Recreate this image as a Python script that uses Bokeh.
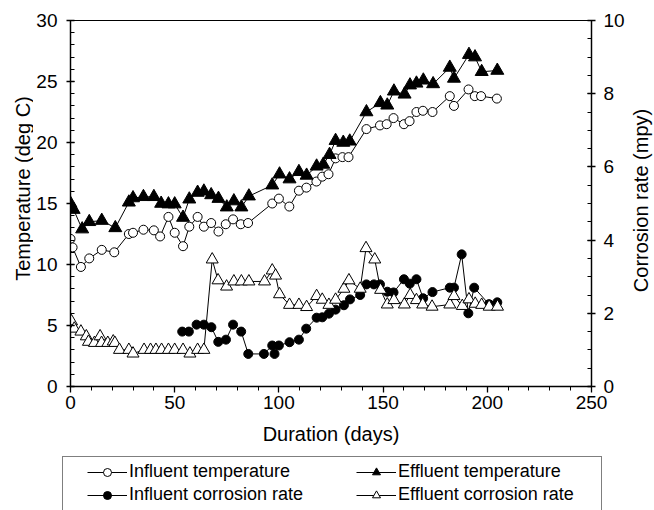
import math
from bokeh.plotting import figure
from bokeh.models import LinearAxis, Range1d, SingleIntervalTicker, Legend, LegendItem, Label
from bokeh.layouts import column, row
from bokeh.embed import file_html
from bokeh.resources import INLINE

# ---------------- data ----------------
inf_temp_days = [0, 1, 5, 9, 15, 21, 28, 30, 35, 40, 43, 47, 50, 54, 57, 61, 64, 67.5, 71, 74.5,
                 78, 81.7, 85.2, 96.8, 100, 105, 109.6, 113.2, 118, 120.8, 123.8, 127.2, 130.5,
                 133.4, 142, 148.5, 151.7, 155, 160, 162.7, 166, 169.1, 173.7, 182, 184, 191,
                 194, 197, 204.6]
inf_temp = [12.1, 11.4, 9.8, 10.5, 11.2, 11.0, 12.5, 12.6, 12.85, 12.8, 12.3, 13.9, 12.6, 11.5,
            13.1, 13.9, 13.1, 13.4, 12.7, 13.3, 13.7, 13.3, 13.4, 15.0, 15.4, 14.75, 16.05, 16.3,
            16.8, 17.2, 17.4, 18.7, 18.8, 18.8, 21.1, 21.4, 21.5, 22.0, 21.5, 21.75, 22.5, 22.6,
            22.5, 23.8, 23.0, 24.35, 23.8, 23.8, 23.6]

eff_temp_days = [0, 1.5, 5.6, 9, 15, 21.5, 28, 30, 35, 40, 43.5, 47, 50, 54, 57, 61, 64, 67.5,
                 71, 75, 78.4, 82, 85.6, 96.8, 100.3, 105.1, 109.6, 113.3, 118.1, 121.3, 124.3,
                 127.2, 130.9, 134, 142, 148.7, 152, 155.2, 160.3, 162.9, 166, 169.3, 174, 182,
                 184, 191.2, 194.1, 197.3, 204.8]
eff_temp = [15.0, 14.5, 12.9, 13.5, 13.6, 13.0, 15.1, 15.45, 15.55, 15.55, 15.0, 14.95, 14.95,
            13.85, 15.35, 15.9, 16.0, 15.7, 15.4, 14.7, 15.2, 14.7, 15.6, 16.5, 17.4, 17.0, 17.6,
            17.3, 18.05, 18.2, 19.0, 20.15, 20.0, 20.1, 22.5, 23.25, 23.05, 24.2, 23.95, 24.7,
            24.85, 25.1, 24.8, 26.15, 25.25, 27.2, 27.0, 25.8, 25.9]

inf_cr_days = [53.6, 56.8, 60.5, 64, 67.6, 70.9, 74.6, 78, 81.9, 85.3, 92.8, 96.8, 97.9, 100,
               105.1, 109.6, 113.1, 118.1, 120.8, 124, 127.2, 131.2, 134.1, 139, 142, 145.6,
               148.5, 152, 155, 160, 162.8, 166, 169.2, 173.7, 182, 184, 187.7, 190.9, 193.7,
               200.8, 204.8]
inf_cr = [1.5, 1.5, 1.69, 1.69, 1.62, 1.22, 1.28, 1.69, 1.5, 0.89, 0.89, 1.12, 0.89, 1.12,
          1.21, 1.28, 1.58, 1.88, 1.89, 1.99, 2.1, 2.22, 2.38, 2.5, 2.79, 2.79, 2.79, 2.59, 2.57,
          2.93, 2.81, 2.93, 2.41, 2.58, 2.7, 2.7, 3.61, 2.0, 2.7, 2.25, 2.3]

eff_cr_days = [0.5, 1.8, 5, 7.6, 8.6, 11.5, 14.2, 14.9, 17.9, 20.5, 21.3, 23.5, 28, 30, 35.3,
               38.4, 41, 43.7, 47, 50, 54, 57.3, 61, 64, 68, 70.8, 74.9, 78.4, 82, 85.6, 93.1,
               96.8, 98.4, 100.3, 105.1, 109.6, 113.3, 118.1, 120.8, 124, 127.2, 131.2, 133.6,
               139, 141.8, 146, 148.8, 152, 155.2, 160.2, 163, 166, 169, 173.5, 182, 184, 188,
               191.2, 194.2, 197.3, 200.9, 204.9]
eff_cr = [1.78, 1.58, 1.5, 1.37, 1.22, 1.19, 1.37, 1.19, 1.19, 1.23, 1.19, 1.0, 1.0, 0.9, 1.0,
          1.0, 1.0, 1.0, 1.0, 1.0, 1.0, 0.9, 1.0, 1.0, 3.47, 2.9, 2.73, 2.87, 2.87, 2.87, 2.87,
          3.17, 3.03, 2.52, 2.23, 2.23, 2.17, 2.47, 2.37, 2.23, 2.37, 2.67, 2.9, 2.67, 3.78,
          3.47, 2.64, 2.24, 2.36, 2.24, 2.5, 2.36, 2.24, 2.18, 2.24, 2.47, 2.2, 2.38, 2.26,
          2.23, 2.18, 2.18]

x_title = "Duration (days)"
y_title = "Temperature (deg C)"
y2_title = "Corrosion rate (mpy)"
labels = ["Influent temperature", "Effluent temperature",
          "Influent corrosion rate", "Effluent corrosion rate"]

FONT = "Liberation Sans"
W = 654
H_MAIN = 456
H_LEG = 54
W_L = 33
W_R = 26
W_P = W - W_L - W_R


def blank_fig(w, h):
    f = figure(width=w, height=h, output_backend="svg", toolbar_location=None,
               x_range=Range1d(0, 1), y_range=Range1d(-2, -1),
               min_border_left=0, min_border_right=0, min_border_top=0, min_border_bottom=0)
    f.axis.visible = False
    f.xgrid.visible = False
    f.ygrid.visible = False
    f.outline_line_color = None
    f.background_fill_color = "white"
    f.border_fill_color = "white"
    return f


p = figure(width=W_P, height=H_MAIN, output_backend="svg", toolbar_location=None,
           x_range=Range1d(0, 250), y_range=Range1d(0, 30),
           min_border_left=37, min_border_right=37, min_border_top=20, min_border_bottom=70)
p.extra_y_ranges = {"cr": Range1d(0, 10)}
p.xgrid.visible = False
p.ygrid.visible = False
p.outline_line_color = "black"
p.outline_line_width = 1.2
p.background_fill_color = "white"
p.border_fill_color = "white"


def style_axis(ax):
    ax.axis_line_color = "black"
    ax.axis_line_width = 1.3
    ax.major_tick_line_color = "black"
    ax.minor_tick_line_color = "black"
    ax.major_tick_line_width = 1.3
    ax.minor_tick_line_width = 1.0
    ax.major_label_text_font = FONT
    ax.major_label_text_font_size = "19px"
    ax.major_label_text_color = "black"
    ax.axis_label_text_font = FONT
    ax.axis_label_text_font_size = "20px"
    ax.axis_label_text_font_style = "normal"
    ax.axis_label_text_color = "black"


xa = p.xaxis[0]
xa.ticker = SingleIntervalTicker(interval=50, num_minor_ticks=5)
xa.axis_label = x_title
style_axis(xa)
xa.major_tick_in = 0
xa.major_tick_out = 6
xa.minor_tick_in = 0
xa.minor_tick_out = 4
xa.major_label_standoff = 3
xa.axis_label_standoff = 11

ya = p.yaxis[0]
ya.ticker = SingleIntervalTicker(interval=5, num_minor_ticks=5)
style_axis(ya)
ya.major_tick_in = 4
ya.major_tick_out = 4
ya.minor_tick_in = 4
ya.minor_tick_out = 0
ya.major_label_standoff = 9

ya2 = LinearAxis(y_range_name="cr", ticker=SingleIntervalTicker(interval=2, num_minor_ticks=4))
style_axis(ya2)
ya2.major_tick_in = 4
ya2.major_tick_out = 4
ya2.minor_tick_in = 4
ya2.minor_tick_out = 0
ya2.major_label_standoff = 8
p.add_layout(ya2, "right")

# series
p.line(inf_temp_days, inf_temp, line_color="black", line_width=1)
p.scatter(inf_temp_days, inf_temp, marker="circle", size=9, fill_color="white",
          line_color="black", line_width=1)
p.line(eff_temp_days, eff_temp, line_color="black", line_width=1)
p.scatter(eff_temp_days, eff_temp, marker="triangle", size=13, fill_color="black",
          line_color="black", line_width=1)
p.line(inf_cr_days, inf_cr, line_color="black", line_width=1, y_range_name="cr")
p.scatter(inf_cr_days, inf_cr, marker="circle", size=9, fill_color="black",
          line_color="black", line_width=1, y_range_name="cr")
p.line(eff_cr_days, eff_cr, line_color="black", line_width=1, y_range_name="cr")
p.scatter(eff_cr_days, eff_cr, marker="triangle", size=12, fill_color="white",
          line_color="black", line_width=1, y_range_name="cr")

# ---------------- side title panels ----------------
lf = blank_fig(W_L, H_MAIN)
lf.add_layout(Label(x=22, y=H_MAIN - 188, x_units="screen", y_units="screen", text=y_title,
                    angle=math.pi / 2, text_align="center", text_baseline="middle",
                    text_font=FONT, text_font_size="20px", text_color="black"))
rf = blank_fig(W_R, H_MAIN)
rf.add_layout(Label(x=12, y=H_MAIN - 200, x_units="screen", y_units="screen", text=y2_title,
                    angle=math.pi / 2, text_align="center", text_baseline="middle",
                    text_font=FONT, text_font_size="20px", text_color="black"))

# ---------------- legend panel ----------------
q = blank_fig(W, H_LEG)

dummy = q.line(inf_temp_days, inf_temp, line_alpha=0)
g1l = q.line(inf_temp_days, inf_temp, line_color="black", line_width=1)
g1m = q.scatter(inf_temp_days, inf_temp, marker="circle", fill_color="white",
                line_color="black", line_width=1)
g2l = q.line(eff_temp_days, eff_temp, line_color="black", line_width=1)
g2m = q.scatter(eff_temp_days, eff_temp, marker="triangle", fill_color="black",
                line_color="black", line_width=1)
g3l = q.line(inf_cr_days, inf_cr, line_color="black", line_width=1)
g3m = q.scatter(inf_cr_days, inf_cr, marker="circle", fill_color="black",
                line_color="black", line_width=1)
g4l = q.line(eff_cr_days, eff_cr, line_color="black", line_width=1)
g4m = q.scatter(eff_cr_days, eff_cr, marker="triangle", fill_color="white",
                line_color="black", line_width=1)

box = Legend(items=[LegendItem(label=" ", renderers=[dummy])], location=(62, -8),
             padding=0, margin=0, glyph_width=1, glyph_height=1, label_standoff=0,
             label_width=537, label_height=60, border_line_color="black",
             border_line_width=1.2, background_fill_color="white", background_fill_alpha=1)
q.add_layout(box)


def make_leg(items, vx):
    return Legend(items=items, location=(vx, 5), padding=0, margin=0, spacing=2,
                  glyph_width=40, glyph_height=20, label_standoff=2, label_height=21,
                  label_text_font=FONT, label_text_font_size="18px", label_text_color="black",
                  border_line_alpha=0, background_fill_alpha=0)


leg1 = make_leg([LegendItem(label=labels[0], renderers=[g1l, g1m]),
                 LegendItem(label=labels[2], renderers=[g3l, g3m])], 87)
leg2 = make_leg([LegendItem(label=labels[1], renderers=[g2l, g2m]),
                 LegendItem(label=labels[3], renderers=[g4l, g4m])], 356)
q.add_layout(leg1)
q.add_layout(leg2)

for fig in (p, q, lf, rf):
    try:
        fig.frame_align = False
    except Exception:
        pass

layout = column(row(lf, p, rf, spacing=0), q, spacing=0)
open("out.html", "w").write(file_html(layout, INLINE))
